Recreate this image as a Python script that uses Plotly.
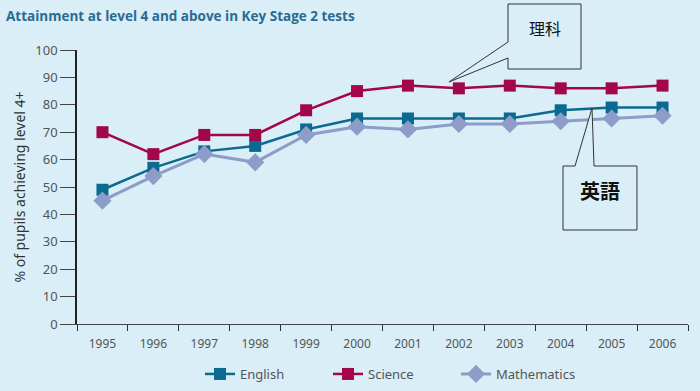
import plotly.graph_objects as go

years = ["1995", "1996", "1997", "1998", "1999", "2000", "2001", "2002", "2003", "2004", "2005", "2006"]
english = [49, 57, 63, 65, 71, 75, 75, 75, 75, 78, 79, 79]
science = [70, 62, 69, 69, 78, 85, 87, 86, 87, 86, 86, 87]
maths = [45, 54, 62, 59, 69, 72, 71, 73, 73, 74, 75, 76]
y_ticks = [0, 10, 20, 30, 40, 50, 60, 70, 80, 90, 100]

W, H = 700, 391
L, R, T, B = 77, 12, 50, 67
pw, ph = W - L - R, H - T - B

def px(x):
    return (x - L) / pw

def py(y):
    return (H - B - y) / ph

def poly(points):
    s = "M " + " L ".join(f"{px(x):.4f},{py(y):.4f}" for x, y in points) + " Z"
    return s

bg = "#d9eef7"
fig = go.Figure()
fig.add_trace(go.Scatter(x=years, y=english, name="English", mode="lines+markers",
                         line=dict(color="#0b6a8f", width=2.5),
                         marker=dict(symbol="square", size=12, color="#0b6a8f")))
fig.add_trace(go.Scatter(x=years, y=science, name="Science", mode="lines+markers",
                         line=dict(color="#a20748", width=2.5),
                         marker=dict(symbol="square", size=12, color="#a20748")))
fig.add_trace(go.Scatter(x=years, y=maths, name="Mathematics", mode="lines+markers",
                         line=dict(color="#8d9cc9", width=3),
                         marker=dict(symbol="diamond", size=14, color="#8d9cc9")))

shapes = [
    dict(type="path", xref="paper", yref="paper",
         path=poly([(508, 4), (581, 4), (581, 69), (508, 69), (508, 58), (449, 82), (508, 42)]),
         line=dict(color="#333333", width=1), fillcolor=bg),
    dict(type="path", xref="paper", yref="paper",
         path=poly([(563, 166), (575, 166), (592, 108), (594, 166), (637, 166), (637, 230), (563, 230)]),
         line=dict(color="#333333", width=1), fillcolor=bg),
]

annotations = [
    dict(text="<b>Attainment at level 4 and above in Key Stage 2 tests</b>", xref="paper", yref="paper",
         x=px(4), y=py(16), xanchor="left", yanchor="middle", showarrow=False,
         font=dict(size=13.5, color="#2a6a93", family="Open Sans")),
    dict(text="理科", xref="paper", yref="paper", x=px(545), y=py(28), xanchor="center",
         yanchor="middle", showarrow=False,
         font=dict(size=16, color="#111111", family="Noto Sans CJK JP")),
    dict(text="<b>英語</b>", xref="paper", yref="paper", x=px(600), y=py(190), xanchor="center",
         yanchor="middle", showarrow=False,
         font=dict(size=20, color="#111111", family="Noto Sans CJK JP")),
]

fig.update_layout(
    width=W, height=H,
    margin=dict(l=L, r=R, t=T, b=B, autoexpand=False),
    paper_bgcolor=bg, plot_bgcolor=bg,
    font=dict(family="Noto Sans", size=12, color="#555555"),
    showlegend=True,
    legend=dict(orientation="h", x=px(200), xanchor="left", y=py(374), yanchor="middle",
                traceorder="normal", font=dict(size=13, color="#555555"),
                bgcolor="rgba(0,0,0,0)", itemwidth=30, entrywidth=83, entrywidthmode="pixels"),
    shapes=shapes,
    annotations=annotations,
)
fig.update_xaxes(type="category", categoryorder="array", categoryarray=years,
                 range=[-0.5, 11.5], showgrid=False, showline=True, linecolor="#444444",
                 linewidth=1, ticks="outside", tickson="boundaries", ticklen=6,
                 tickcolor="#333333", tickfont=dict(size=12, color="#555555"), zeroline=False,
                 automargin=False, ticklabelstandoff=9)
fig.update_yaxes(range=[0, 100], tickvals=y_ticks, showgrid=False, showline=True,
                 linecolor="#222222", linewidth=1.5, ticks="outside", ticklen=15,
                 tickcolor="#444444", tickfont=dict(size=13, color="#555555"), zeroline=False,
                 automargin=False,
                 title=dict(text="% of pupils achieving level 4+", font=dict(size=14, color="#333333"),
                            standoff=6))

fig.write_html("out.html", config={"displayModeBar": False},
               post_script="document.body.style.margin='0';document.body.style.background='#d9eef7';")
